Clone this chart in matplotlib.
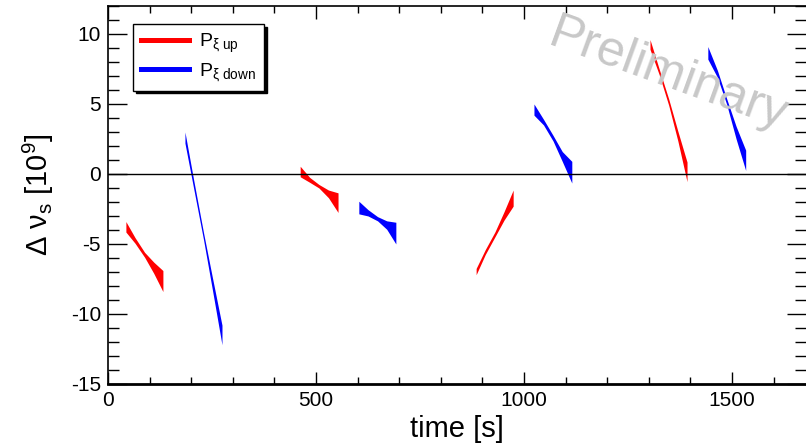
import numpy as np
import matplotlib
matplotlib.use("Agg")
import matplotlib.pyplot as plt
from matplotlib.ticker import MultipleLocator
from matplotlib.lines import Line2D

plt.rcParams['font.family'] = ['Liberation Sans', 'DejaVu Sans']
plt.rcParams['mathtext.fontset'] = 'custom'
plt.rcParams['mathtext.rm'] = 'Liberation Sans'
plt.rcParams['mathtext.it'] = 'Liberation Sans'
plt.rcParams['axes.unicode_minus'] = False

# band segments: time [s], lower and upper edge [10^9]
up_t = [[43, 65, 88, 110, 132],
        [462, 485, 507, 530, 553],
        [885, 907, 930, 952, 974],
        [1303, 1325, 1348, 1370, 1392]]
up_hi = [[-3.4, -4.55, -5.6, -6.3, -6.9],
         [0.55, -0.25, -0.75, -1.15, -1.35],
         [-6.75, -5.4, -4.15, -2.7, -1.15],
         [9.6, 7.5, 5.35, 3.05, 0.85]]
up_lo = [[-4.15, -4.95, -5.95, -7.1, -8.4],
         [-0.2, -0.6, -1.0, -1.7, -2.75],
         [-7.2, -5.75, -4.5, -3.3, -2.3],
         [8.9, 7.1, 4.9, 2.35, -0.55]]

down_t = [[185, 207, 230, 252, 274],
          [603, 625, 648, 670, 692],
          [1024, 1047, 1070, 1092, 1115],
          [1442, 1465, 1487, 1510, 1533]]
down_hi = [[3.0, -0.6, -4.25, -7.55, -10.8],
           [-1.95, -2.55, -3.05, -3.35, -3.45],
           [5.0, 3.9, 2.75, 1.6, 0.9],
           [9.1, 7.4, 5.4, 3.4, 1.7]]
down_lo = [[2.2, -1.2, -4.75, -8.45, -12.2],
           [-2.85, -3.0, -3.35, -3.95, -5.0],
           [4.2, 3.5, 2.35, 0.9, -0.65],
           [8.2, 6.9, 5.0, 2.5, 0.25]]

fig = plt.figure(figsize=(8.06, 4.48), dpi=100)
ax = fig.add_axes([0.134, 0.143, 0.866, 0.8437])

for i in range(len(up_t)):
    ax.fill_between(up_t[i], up_lo[i], up_hi[i], color='#ff0000', lw=0)
for i in range(len(down_t)):
    ax.fill_between(down_t[i], down_lo[i], down_hi[i], color='#0000ff', lw=0)

ax.axhline(0, color='black', lw=1)

ax.set_xlim(0, 1678)
ax.set_ylim(-15, 12)
ax.xaxis.set_major_locator(MultipleLocator(500))
ax.xaxis.set_minor_locator(MultipleLocator(100))
ax.yaxis.set_major_locator(MultipleLocator(5))
ax.yaxis.set_minor_locator(MultipleLocator(1))
ax.tick_params(axis='both', which='both', direction='in', top=True, right=True,
               labelsize=15, width=1)
ax.tick_params(axis='x', which='major', length=9, pad=5)
ax.tick_params(axis='x', which='minor', length=5)
ax.tick_params(axis='y', which='major', length=14, pad=5)
ax.tick_params(axis='y', which='minor', length=8)
for s in ['left', 'top']:
    ax.spines[s].set_linewidth(1.2)
ax.spines['bottom'].set_linewidth(2)
ax.spines['right'].set_visible(False)

ax.set_xlabel('time [s]', fontsize=21, labelpad=4)
ax.set_ylabel(r'Δ ν$_{\mathrm{s}}$ [10$^{9}$]', fontsize=21, labelpad=11)

handles = [Line2D([], [], color='#ff0000', lw=3.6),
           Line2D([], [], color='#0000ff', lw=3.6)]
labels = [r'P$_{\xi\ \mathrm{up}}$', r'P$_{\xi\ \mathrm{down}}$']
leg = ax.legend(handles, labels, loc='upper left', bbox_to_anchor=(0.0358, 0.952),
                borderaxespad=0, fontsize=14, handlelength=2.5, handletextpad=0.5,
                labelspacing=0.3, borderpad=0.4, fancybox=False,
                shadow={'color': 'black', 'alpha': 1.0}, framealpha=1)
leg.get_frame().set_edgecolor('black')
leg.get_frame().set_linewidth(1)

fig.text(0.829, 0.832, 'Preliminary', fontsize=36, color='#c8c8c8',
         rotation=-20, ha='center', va='center', rotation_mode='anchor')

fig.savefig('out.png', dpi=100)
